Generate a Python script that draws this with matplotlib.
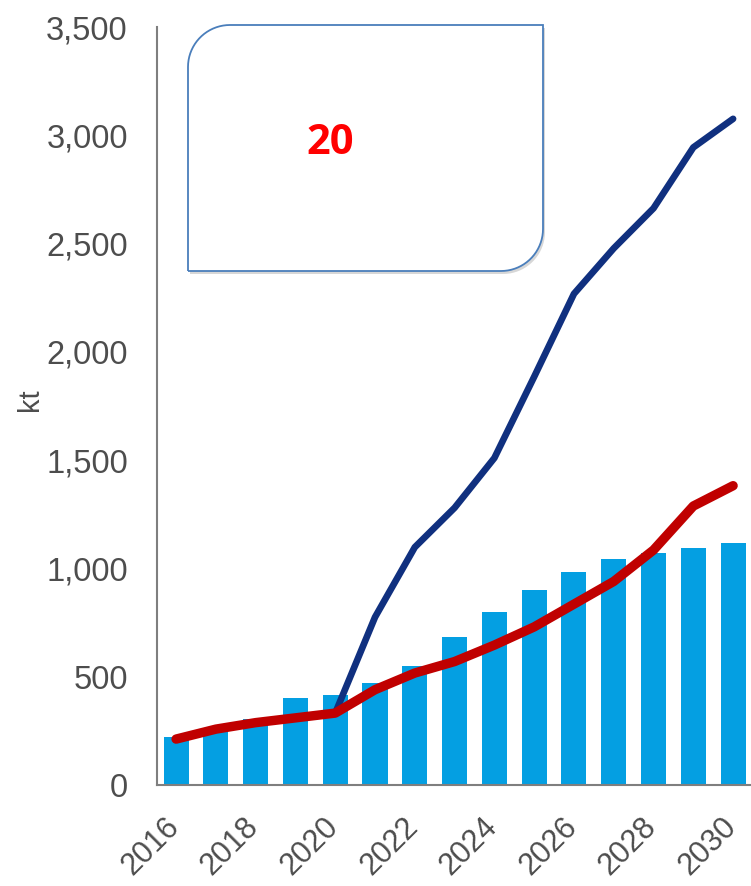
import numpy as np
import matplotlib
matplotlib.use("Agg")
import matplotlib.pyplot as plt
from matplotlib.path import Path
from matplotlib.patches import PathPatch
from matplotlib.transforms import IdentityTransform, ScaledTranslation
from matplotlib.ticker import FuncFormatter

years = [2016, 2017, 2018, 2019, 2020, 2021, 2022, 2023, 2024, 2025, 2026, 2027, 2028, 2029, 2030]
bar_values = [220, 250, 305, 400, 415, 470, 550, 683, 800, 900, 983, 1043, 1070, 1094, 1117]
red_values = [212, 258, 288, 310, 332, 440, 517, 570, 646, 730, 835, 940, 1085, 1288, 1382]
blue_years = [2020, 2021, 2022, 2023, 2024, 2025, 2026, 2027, 2028, 2029, 2030]
blue_values = [332, 775, 1098, 1280, 1510, 1885, 2268, 2478, 2663, 2944, 3076]
xtick_years = [2016, 2018, 2020, 2022, 2024, 2026, 2028, 2030]
ytick_values = [0, 500, 1000, 1500, 2000, 2500, 3000, 3500]
box_label = "20"
y_label = "kt"

W, H = 751, 886
fig = plt.figure(figsize=(W / 100, H / 100), dpi=100)
ax = fig.add_axes([157 / W, 101 / H, (W - 157) / W, 758 / H])

ax.bar(years, bar_values, width=0.63, color="#049FE2", zorder=1)
ax.plot(years, red_values, color="#C00000", lw=6.8, solid_capstyle="round",
        solid_joinstyle="round", zorder=3)
ax.plot(blue_years, blue_values, color="#10307F", lw=4.8, solid_capstyle="round",
        solid_joinstyle="round", zorder=2)

ax.set_xlim(2015.52, 2030.45)
ax.set_ylim(0, 3500)
ax.set_yticks(ytick_values)
ax.yaxis.set_major_formatter(FuncFormatter(lambda v, p: f"{int(v):,}"))
ax.set_xticks(xtick_years)
ax.set_xticklabels([str(y) for y in xtick_years], rotation=45, ha="right",
                   va="top", rotation_mode="anchor")
ax.tick_params(axis="y", length=0, pad=21, labelsize=23.5, labelcolor="#4D4D4D")
ax.tick_params(axis="x", length=0, pad=19, labelsize=22, labelcolor="#4D4D4D")
shift = ScaledTranslation(-12 / 100, 0, fig.dpi_scale_trans)
for lab in ax.get_xticklabels():
    lab.set_fontfamily("Liberation Sans")
    lab.set_transform(lab.get_transform() + shift)
for lab in ax.get_yticklabels():
    lab.set_fontfamily("Liberation Sans")

for s in ["top", "right"]:
    ax.spines[s].set_visible(False)
for s in ["left", "bottom"]:
    ax.spines[s].set_color("#7F7F7F")
    ax.spines[s].set_linewidth(1.5)

fig.text(30 / W, 1 - 400 / H, y_label, rotation=90, ha="center", va="center",
         fontsize=21, color="#4D4D4D", family="Liberation Sans")

# rounded callout box (top-left and bottom-right corners rounded), pixel coords
L, R, T, B = 188, 543, H - 25, H - 271
r = 42

def arc(cx, cy, a0, a1, n=20):
    t = np.linspace(np.radians(a0), np.radians(a1), n)
    return list(zip(cx + r * np.cos(t), cy + r * np.sin(t)))

verts = []
verts += [(L, B), (R - r, B)]
verts += arc(R - r, B + r, 270, 360)
verts += [(R, T), (L + r, T)]
verts += arc(L + r, T - r, 90, 180)
verts += [(L, B)]
codes = [Path.MOVETO] + [Path.LINETO] * (len(verts) - 1)

shadow_verts = [(x + 2, y - 3) for x, y in verts]
fig.patches.append(PathPatch(Path(shadow_verts, codes), transform=IdentityTransform(),
                             facecolor="#B0B0B0", edgecolor="none", alpha=0.5, zorder=5))
fig.patches.append(PathPatch(Path(verts, codes), transform=IdentityTransform(),
                             facecolor="white", edgecolor="#4A7EBB", lw=1.3, zorder=6))
fig.text(330 / W, 1 - 143 / H, box_label, ha="center", va="center", fontsize=30,
         fontweight="bold", color="#FF0000", family="Open Sans", zorder=7)

fig.savefig("out.png", dpi=100)
